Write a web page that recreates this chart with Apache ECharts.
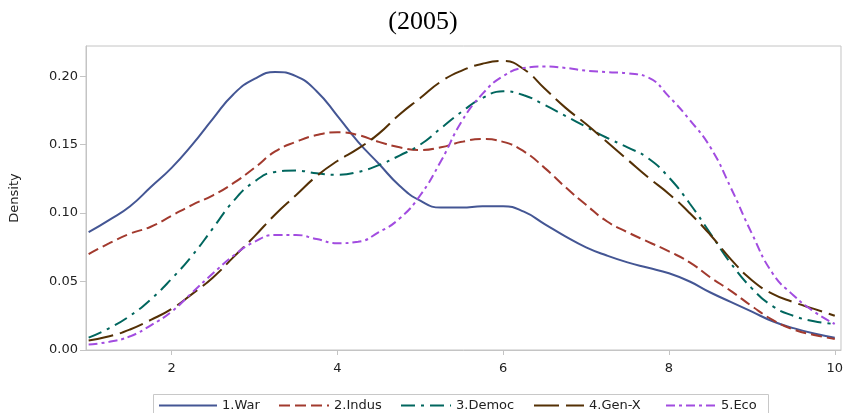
<!DOCTYPE html>
<html>
<head>
<meta charset="utf-8">
<script src="https://cdn.jsdelivr.net/npm/echarts@6/dist/echarts.min.js"></script>
<style>
html,body{margin:0;padding:0;background:#fff;}
#chart{width:846px;height:413px;}
</style>
</head>
<body>
<div id="chart"></div>
<script>
const titleText = "(2005)";
const yAxisName = "Density";
const xTicks = [2, 4, 6, 8, 10];
const yTicks = [0, 0.05, 0.10, 0.15, 0.20];
const seriesNames = ["1.War", "2.Indus", "3.Democ", "4.Gen-X", "5.Eco"];
const xs = [1.0,1.25,1.5,1.75,2.0,2.25,2.5,2.75,3.0,3.25,3.5,3.75,4.0,4.25,4.5,4.75,5.0,5.25,5.5,5.75,6.0,6.25,6.5,6.75,7.0,7.25,7.5,7.75,8.0,8.25,8.5,8.75,9.0,9.25,9.5,9.75,10.0];
const war = [0.086,0.095,0.105,0.119,0.133,0.150,0.169,0.187,0.198,0.203,0.200,0.189,0.171,0.152,0.136,0.120,0.109,0.104,0.104,0.105,0.105,0.101,0.092,0.083,0.075,0.069,0.064,0.060,0.056,0.050,0.042,0.035,0.028,0.021,0.016,0.012,0.009];
const indus = [0.070,0.078,0.085,0.090,0.098,0.106,0.113,0.122,0.133,0.145,0.152,0.157,0.159,0.157,0.152,0.148,0.146,0.148,0.152,0.154,0.152,0.145,0.133,0.119,0.106,0.094,0.086,0.079,0.072,0.064,0.053,0.043,0.032,0.022,0.015,0.011,0.008];
const democ = [0.009,0.016,0.025,0.037,0.052,0.069,0.089,0.109,0.123,0.130,0.131,0.129,0.128,0.130,0.135,0.142,0.150,0.162,0.174,0.184,0.189,0.186,0.179,0.171,0.163,0.155,0.148,0.140,0.126,0.107,0.085,0.063,0.045,0.032,0.025,0.021,0.019];
const genx = [0.007,0.010,0.015,0.022,0.030,0.041,0.053,0.068,0.083,0.099,0.113,0.127,0.138,0.147,0.158,0.172,0.184,0.196,0.204,0.209,0.211,0.205,0.191,0.177,0.165,0.152,0.139,0.126,0.114,0.100,0.084,0.066,0.051,0.041,0.035,0.030,0.025];
const eco = [0.004,0.006,0.010,0.018,0.028,0.042,0.056,0.069,0.079,0.084,0.084,0.081,0.078,0.079,0.086,0.096,0.113,0.138,0.167,0.187,0.200,0.206,0.207,0.206,0.204,0.203,0.202,0.199,0.185,0.168,0.148,0.118,0.085,0.056,0.040,0.028,0.019];

const allValues = [war, indus, democ, genx, eco];
const colors = ["#445694", "#A23A2E", "#01665E", "#543005", "#A24CE0"];
const dashes = ["solid", [11,5], [14,6,3,6], [25,7], [9,4,3,4]];
const legendLefts = [158, 278, 400, 533, 665];
const legendIconWidths = [58, 50, 50, 50, 50];

const labelFont = "DejaVu Sans";
const chart = echarts.init(document.getElementById('chart'), null, {renderer: 'canvas'});
const series = seriesNames.map((name, i) => ({
  name: name,
  type: 'line',
  data: xs.map((x, j) => [x, allValues[i][j]]),
  smooth: true,
  symbol: 'none',
  showSymbol: false,
  lineStyle: {color: colors[i], width: 2, type: dashes[i]},
  itemStyle: {color: colors[i]}
}));

const legends = seriesNames.map((n, i) => ({
  left: legendLefts[i], top: 399, padding: 0,
  itemWidth: legendIconWidths[i], itemHeight: 14, itemGap: 0,
  itemStyle: {opacity: 0, borderWidth: 0},
  textStyle: {fontFamily: labelFont, fontSize: 13, color: '#222'},
  selectedMode: false,
  data: [n]
}));

chart.setOption({
  animation: false,
  backgroundColor: '#fff',
  title: {
    text: titleText, left: 'center', top: 4,
    textStyle: {fontFamily: 'Liberation Serif', fontSize: 26, fontWeight: 'normal', color: '#000'}
  },
  grid: {left: 80, right: 3, top: 46, bottom: 63, show: true, borderColor: '#c4c4c4', borderWidth: 1},
  graphic: [{
    type: 'rect', silent: true,
    shape: {x: 153.5, y: 394.5, width: 615, height: 25},
    style: {fill: 'none', stroke: '#c8c8c8', lineWidth: 1}
  }],
  legend: legends,
  xAxis: {
    type: 'value', min: 0.968, max: 10.075,
    axisLine: {show: true, lineStyle: {color: '#c4c4c4'}},
    axisTick: {show: true, length: 5, lineStyle: {color: '#c4c4c4'}, customValues: xTicks},
    axisLabel: {customValues: xTicks, margin: 12, fontFamily: labelFont, fontSize: 13, color: '#222'},
    splitLine: {show: false}
  },
  yAxis: {
    type: 'value', min: 0, max: 0.222,
    name: yAxisName, nameLocation: 'middle', nameGap: 65, nameRotate: 90,
    nameTextStyle: {fontFamily: labelFont, fontSize: 13, color: '#222'},
    axisLine: {show: true, lineStyle: {color: '#c4c4c4'}},
    axisTick: {show: true, length: 6, lineStyle: {color: '#c4c4c4'}, customValues: yTicks},
    axisLabel: {customValues: yTicks, margin: 8, fontFamily: labelFont, fontSize: 13, color: '#222',
      formatter: v => v.toFixed(2)},
    splitLine: {show: false}
  },
  series: series
});
</script>
</body>
</html>
